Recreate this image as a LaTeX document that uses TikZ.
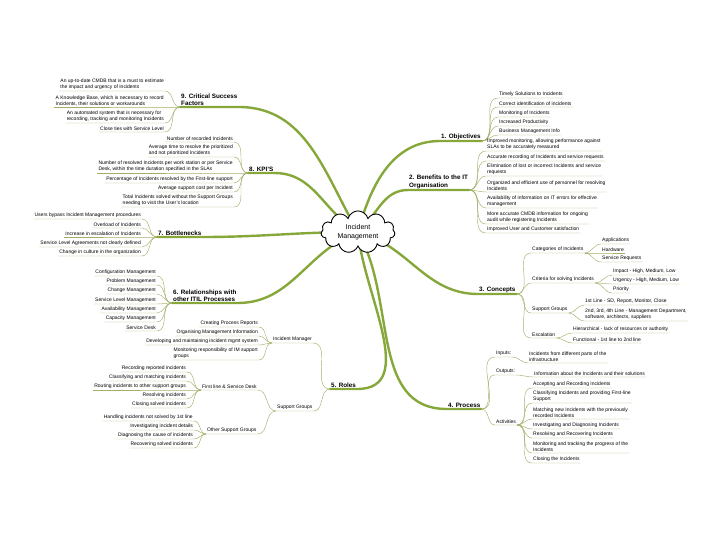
\documentclass[tikz,border=0pt]{standalone}
\usepackage{fontspec}
\setmainfont{Liberation Sans}
\usetikzlibrary{shapes.symbols}
\definecolor{limb}{HTML}{86A83A}
\definecolor{twig}{HTML}{A4AE6A}
\tikzset{
  leaf/.style={font=\fontsize{5}{6}\selectfont, inner sep=1pt, align=left},
  lbl/.style={font=\fontsize{6.3}{7.6}\selectfont\bfseries, inner sep=1pt, align=left},
  twig/.style={draw=twig, line width=0.45pt},
  limb/.style={draw=limb, line width=2.4pt, line cap=round},
}
\begin{document}
\begin{tikzpicture}[x=1pt,y=-1pt]
\useasboundingbox (0,0) rectangle (728,546);

% main labels
\node[lbl, anchor=south west] (obj) at (440,141) {1. Objectives};
\node[lbl, anchor=south west] (ben) at (408,190) {2. Benefits to the IT\\Organisation};
\node[lbl, anchor=south west] (con) at (478,294) {3. Concepts};
\node[lbl, anchor=south west] (pro) at (447,409) {4. Process};
\node[lbl, anchor=south west] (rol) at (330,389) {5. Roles};
\node[lbl, anchor=south west] (rel) at (172,303) {6. Relationships with\\other ITIL Processes};
\node[lbl, anchor=south west] (bot) at (157,237) {7. Bottlenecks};
\node[lbl, anchor=south west] (kpi) at (248,173) {8. KPI'S};
\node[lbl, anchor=south west] (csf) at (180,107) {9. Critical Success\\Factors};

% limbs
\coordinate (mid) at (358,232);
\draw[limb] (mid) to[out=75,in=180] (obj.south west) -- (obj.south east);
\draw[limb] (mid) to[out=40,in=180] (ben.south west) -- (ben.south east);
\draw[limb] (mid) to[out=-15,in=180] (con.south west) -- (con.south east);
\draw[limb] (mid) to[out=-60,in=180] (pro.south west) -- (pro.south east);
\draw[limb] (mid) to[out=-85,in=0] (rol.south east) -- (rol.south west);
\draw[limb] (mid) to[out=200,in=0] (rel.south east) -- (rel.south west);
\draw[limb] (mid) to[out=180,in=0] (bot.south east) -- (bot.south west);
\draw[limb] (mid) to[out=150,in=0] (kpi.south east) -- (kpi.south west);
\draw[limb] (mid) to[out=120,in=0] (csf.south east) -- (csf.south west);

\node[cloud, draw=black, fill=white, line width=0.9pt, cloud puffs=11, aspect=2,
  minimum width=74pt, minimum height=38pt, inner sep=1pt, align=center,
  font=\fontsize{7}{8.4}\selectfont] (core) at (mid)
  {Incident\\Management};

% 1. Objectives
\foreach \y/\t [count=\i] in {98/{Timely Solutions to Incidents},107/{Correct identification of incidents},
  117/{Monitoring of Incidents},126/{Increased Productivity},135/{Business Management Info}} {
  \node[leaf, anchor=south west] (ob\i) at (498,\y) {\t};
  \draw[twig] (obj.south east) to[out=0,in=180] (ob\i.south west) -- (ob\i.south east);
}

% 2. Benefits
\foreach \y/\t [count=\i] in {151/{Improved monitoring, allowing performance against\\SLAs to be accurately measured},
  161/{Accurate recording of Incidents and service requests},
  176/{Elimination of lost or incorrect Incidents and service\\requests},
  192/{Organized and efficient use of personnel for resolving\\Incidents},
  208/{Availability of information on IT errors for effective\\management},
  224/{More accurate CMDB information for ongoing\\audit while registering Incidents},
  233/{Improved User and Customer satisfaction}} {
  \node[leaf, anchor=south west] (be\i) at (486,\y) {\t};
  \draw[twig] (ben.south east) to[out=0,in=180] (be\i.south west) -- (be\i.south east);
}

% 3. Concepts
\foreach \y/\t/\n in {253/{Categories of Incidents}/cat,283/{Criteria for solving Incidents}/cri,
  313/{Support Groups}/sgr,338/{Escalation}/esc} {
  \node[leaf, anchor=south west] (\n) at (531,\y) {\t};
  \draw[twig] (con.south east) to[out=0,in=180] (\n.south west) -- (\n.south east);
}
\foreach \y/\t [count=\i] in {244/Applications,253/Hardware,262/{Service Requests}} {
  \node[leaf, anchor=south west] (ca\i) at (601,\y) {\t};
  \draw[twig] (cat.south east) to[out=0,in=180] (ca\i.south west) -- (ca\i.south east);
}
\foreach \y/\t [count=\i] in {275/{Impact - High, Medium, Low},284/{Urgency - High, Medium, Low},293/Priority} {
  \node[leaf, anchor=south west] (cr\i) at (612,\y) {\t};
  \draw[twig] (cri.south east) to[out=0,in=180] (cr\i.south west) -- (cr\i.south east);
}
\foreach \y/\t [count=\i] in {305/{1st Line - SD, Report, Monitor, Close},
  321/{2nd, 3rd, 4th Line - Management Department,\\software, architects, suppliers}} {
  \node[leaf, anchor=south west] (sg\i) at (584,\y) {\t};
  \draw[twig] (sgr.south east) to[out=0,in=180] (sg\i.south west) -- (sg\i.south east);
}
\foreach \y/\t [count=\i] in {333/{Hierarchical - lack of resources or authority},343/{Functional - 1st line to 2nd line}} {
  \node[leaf, anchor=south west] (es\i) at (572,\y) {\t};
  \draw[twig] (esc.south east) to[out=0,in=180] (es\i.south west) -- (es\i.south east);
}

% 4. Process
\foreach \y/\t/\n in {357/{Inputs:}/inp,375/{Outputs:}/outp,425/{Activities}/act} {
  \node[leaf, anchor=south west] (\n) at (495,\y) {\t};
  \draw[twig] (pro.south east) to[out=0,in=180] (\n.south west) -- (\n.south east);
}
\node[leaf, anchor=south west] (in1) at (528,363) {Incidents from different parts of the\\infrastructure};
\draw[twig] (inp.south east) to[out=0,in=180] (in1.south west) -- (in1.south east);
\node[leaf, anchor=south west] (ou1) at (533,377) {Information about the Incidents and their solutions};
\draw[twig] (outp.south east) to[out=0,in=180] (ou1.south west) -- (ou1.south east);
\foreach \y/\t [count=\i] in {388/{Accepting and Recording Incidents},
  403/{Classifying Incidents and providing First-line\\Support},
  419/{Matching new Incidents with the previously\\recorded Incidents},
  429/{Investigating and Diagnosing Incidents},438/{Resolving and Recovering Incidents},
  453/{Monitoring and tracking the progress of the\\Incidents},463/{Closing the Incidents}} {
  \node[leaf, anchor=south west] (ac\i) at (532,\y) {\t};
  \draw[twig] (act.south east) to[out=0,in=180] (ac\i.south west) -- (ac\i.south east);
}

% 5. Roles
\node[leaf, anchor=south west] (imgr) at (272,343) {Incident Manager};
\node[leaf, anchor=south west] (sgrp) at (276,411) {Support Groups};
\foreach \n in {imgr,sgrp}
  \draw[twig] (rol.south west) to[out=180,in=0] (\n.south east) -- (\n.south west);
\foreach \y/\t [count=\i] in {327/{Creating Process Reports},336/{Organising Management Information},
  345/{Developing and maintaining incident mgmt system},360/{Monitoring responsibility of IM support\\groups}} {
  \node[leaf, anchor=south east] (im\i) at (259,\y) {\t};
  \draw[twig] (imgr.south west) to[out=180,in=0] (im\i.south east) -- (im\i.south west);
}
\node[leaf, anchor=south west] (fls) at (201,390) {First line \& Service Desk};
\node[leaf, anchor=south west] (osg) at (206,434) {Other Support Groups};
\foreach \n in {fls,osg}
  \draw[twig] (sgrp.south west) to[out=180,in=0] (\n.south east) -- (\n.south west);
\foreach \y/\t [count=\i] in {372/{Recording reported incidents},381/{Classifying and matching incidents},
  390/{Routing incidents to other support groups},399/{Resolving incidents},408/{Closing solved incidents}} {
  \node[leaf, anchor=south east] (fl\i) at (187,\y) {\t};
  \draw[twig] (fls.south west) to[out=180,in=0] (fl\i.south east) -- (fl\i.south west);
}
\foreach \y/\t [count=\i] in {421/{Handling incidents not solved by 1st line},430/{Investigating incident details},
  439/{Diagnosing the cause of incidents},448/{Recovering solved incidents}} {
  \node[leaf, anchor=south east] (os\i) at (194,\y) {\t};
  \draw[twig] (osg.south west) to[out=180,in=0] (os\i.south east) -- (os\i.south west);
}

% 6. Relationships
\foreach \y/\t [count=\i] in {276/{Configuration Management},285/{Problem Management},294/{Change Management},
  304/{Service Level Management},313/{Availability Management},322/{Capacity Management},331/{Service Desk}} {
  \node[leaf, anchor=south east] (re\i) at (157,\y) {\t};
  \draw[twig] (rel.south west) to[out=180,in=0] (re\i.south east) -- (re\i.south west);
}

% 7. Bottlenecks
\foreach \y/\t [count=\i] in {219/{Users bypass Incident Management procedures},228/{Overload of Incidents},
  237/{Increase in escalation of Incidents},247/{Service Level Agreements not clearly defined},
  256/{Change in culture in the organization}} {
  \node[leaf, anchor=south east] (bo\i) at (142,\y) {\t};
  \draw[twig] (bot.south west) to[out=180,in=0] (bo\i.south east) -- (bo\i.south west);
}

% 8. KPIs
\foreach \y/\t [count=\i] in {142/{Number of recorded Incidents},
  157/{Average time to resolve the prioritized\\and not prioritized Incidents},
  173/{Number of resolved Incidents per work station or per Service\\Desk, within the time duration specified in the SLAs},
  183/{Percentage of Incidents resolved by the First-line support},192/{Average support cost per Incident},
  207/{Total Incidents solved without the Support Groups\\needing to visit the User's location}} {
  \node[leaf, anchor=south east] (kp\i) at (234,\y) {\t};
  \draw[twig] (kpi.south west) to[out=180,in=0] (kp\i.south east) -- (kp\i.south west);
}

% 9. Critical Success Factors
\foreach \y/\t [count=\i] in {91/{An up-to-date CMDB that is a must to estimate\\the impact and urgency of Incidents},
  107/{A Knowledge Base, which is necessary to record\\Incidents, their solutions or workarounds},
  123/{An automated system that is necessary for\\recording, tracking and monitoring Incidents},
  132/{Close ties with Service Level}} {
  \node[leaf, anchor=south east] (cs\i) at (165,\y) {\t};
  \draw[twig] (csf.south west) to[out=180,in=0] (cs\i.south east) -- (cs\i.south west);
}
\end{tikzpicture}
\end{document}
